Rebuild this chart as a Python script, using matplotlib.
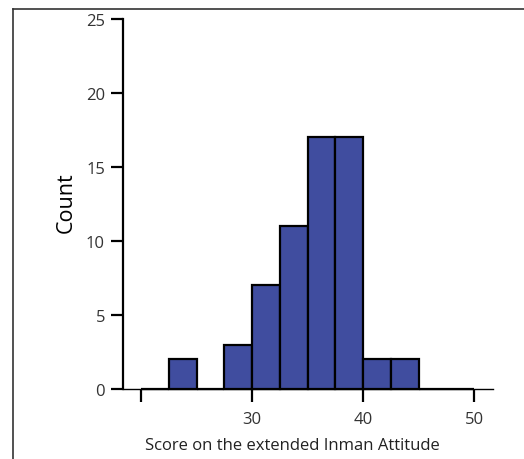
import numpy as np
import matplotlib.pyplot as plt
from matplotlib.lines import Line2D

# histogram bins (width 2.5) and counts
binEdges = [20.0, 22.5, 25.0, 27.5, 30.0, 32.5, 35.0, 37.5, 40.0, 42.5, 45.0, 47.5, 50.0]
counts = [0, 2, 0, 3, 7, 11, 17, 17, 2, 2, 0, 0]
xTicks = [20, 30, 40, 50]
xTickLabels = ["", "30", "40", "50"]
yTicks = [0, 5, 10, 15, 20, 25]

plt.rcParams['font.family'] = ['Open Sans', 'DejaVu Sans']

fig = plt.figure(figsize=(5.24, 4.6), dpi=100)
ax = fig.add_axes([123 / 524, 70 / 460, 370 / 524, 370 / 460])

left = np.array(binEdges[:-1])
width = np.diff(binEdges)
ax.bar(left, counts, width=width, align='edge', color='#404d9f',
       edgecolor='black', linewidth=1.6, zorder=3, clip_on=False)

ax.set_xlim(18.38, 51.7)
ax.set_ylim(0, 25)
ax.set_xticks(xTicks)
ax.set_xticklabels(xTickLabels)
ax.set_yticks(yTicks)

for side in ['top', 'right']:
    ax.spines[side].set_visible(False)
ax.spines['left'].set_linewidth(1.6)
ax.spines['bottom'].set_linewidth(1)
ax.tick_params(axis='both', direction='out', length=9, width=1.6, labelsize=12,
               labelcolor='#333333')
ax.tick_params(axis='x', pad=7)
ax.tick_params(axis='y', pad=4)

fig.text(66 / 524, 1 - 203 / 460, "Count", rotation=90, fontsize=15.5,
         ha='center', va='center')
fig.text(292 / 524, 1 - 446 / 460, "Score on the extended Inman Attitude",
         fontsize=12, ha='center', va='center', color='#222222')

# thin frame around the panel (top and left edges)
fig.add_artist(Line2D([13 / 524, 1.0], [1 - 10 / 460, 1 - 10 / 460],
                      transform=fig.transFigure, color='#333333', linewidth=1.2))
fig.add_artist(Line2D([13 / 524, 13 / 524], [0.0, 1 - 10 / 460],
                      transform=fig.transFigure, color='#333333', linewidth=1.2))

fig.savefig("out.png", dpi=100)
